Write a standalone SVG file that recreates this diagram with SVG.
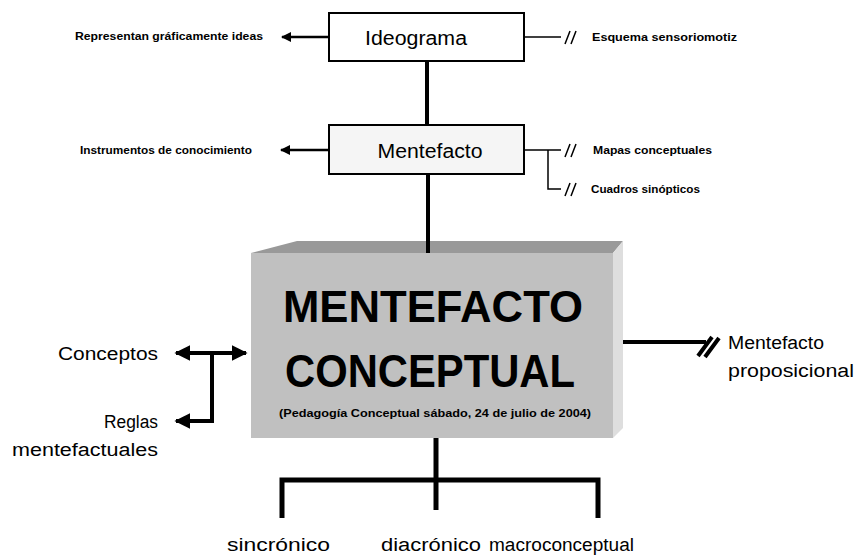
<svg xmlns="http://www.w3.org/2000/svg" width="856" height="559" viewBox="0 0 856 559">
<style>
text{font-family:"Liberation Sans",Arial,sans-serif;fill:#000}
.small{font-size:10px;font-weight:bold}
.mid{font-size:18px}
.box{stroke:#000;stroke-width:2}
.thin{stroke:#000;stroke-width:1.5;fill:none}
.thick{stroke:#000;stroke-width:4;fill:none}
.heavy{stroke:#000;stroke-width:5;fill:none}
</style>
<defs>
<marker id="ah" viewBox="0 0 10 10" refX="9" refY="5" markerWidth="4" markerHeight="4" orient="auto-start-reverse" markerUnits="strokeWidth">
<path d="M0,0 L10,5 L0,10 z" fill="#000"/>
</marker>
<marker id="ahs" viewBox="0 0 10 10" refX="9" refY="5" markerWidth="5" markerHeight="4" orient="auto" markerUnits="strokeWidth">
<path d="M0,0 L10,5 L0,10 z" fill="#000"/>
</marker>
</defs>
<rect width="856" height="559" fill="#fff"/>
<g id="connectors">
<line class="thick" x1="427" y1="61" x2="427" y2="125"/>
<line class="thick" x1="428" y1="174" x2="428" y2="253"/>
<line x1="329" y1="37" x2="282" y2="37" stroke="#000" stroke-width="2.5" marker-end="url(#ahs)"/>
<line x1="329" y1="150" x2="281" y2="150" stroke="#000" stroke-width="2.5" marker-end="url(#ahs)"/>
<path class="thin" d="M524,37 H561"/>
<path class="thin" d="M565,44 L570,31 M571,44 L576,31"/>
<path class="thin" d="M524,150 H561 M548,150 V189 H561"/>
<path class="thin" d="M565,157 L570,144 M571,157 L576,144 M565,196 L570,183 M571,196 L576,183"/>
<line class="thick" x1="176" y1="353" x2="246" y2="353" marker-start="url(#ah)" marker-end="url(#ah)"/>
<path class="thick" d="M212,353 V421 H176" marker-end="url(#ah)"/>
<line class="thick" x1="623" y1="342" x2="706" y2="342"/>
<path d="M698,356 L712,337 M705,357 L719,338" stroke="#000" stroke-width="4" fill="none"/>
<line class="heavy" x1="436" y1="438" x2="436" y2="510"/>
<path class="heavy" d="M282,518 V480 H598 V518"/>
</g>
<g id="ideograma">
<rect class="box" x="329" y="13" width="195" height="48" fill="#fff"/>
<text x="416" y="45" font-size="20" text-anchor="middle" textLength="102" lengthAdjust="spacingAndGlyphs">Ideograma</text>
</g>
<g id="mentefacto">
<rect class="box" x="329" y="125" width="195" height="49" fill="#f5f5f5"/>
<text x="430" y="158" font-size="20" text-anchor="middle" textLength="105" lengthAdjust="spacingAndGlyphs">Mentefacto</text>
</g>
<g id="representan">
<text class="small" x="75" y="40" textLength="188" lengthAdjust="spacingAndGlyphs">Representan gráficamente ideas</text>
</g>
<g id="esquema">
<text class="small" x="592" y="41" textLength="145" lengthAdjust="spacingAndGlyphs">Esquema sensoriomotiz</text>
</g>
<g id="instrumentos">
<text class="small" x="80" y="154" textLength="172" lengthAdjust="spacingAndGlyphs">Instrumentos de conocimiento</text>
</g>
<g id="mapas">
<text class="small" x="593" y="154" textLength="119" lengthAdjust="spacingAndGlyphs">Mapas conceptuales</text>
</g>
<g id="cuadros">
<text class="small" x="591" y="193" textLength="109" lengthAdjust="spacingAndGlyphs">Cuadros sinópticos</text>
</g>
<g id="mentefacto-conceptual">
<polygon points="251,253 297,241 623,241 613,253" fill="#999"/>
<polygon points="613,253 623,241 623,428 613,438" fill="#dedede"/>
<rect x="251" y="253" width="362" height="185" fill="#c0c0c0"/>
<line class="thick" x1="428" y1="241" x2="428" y2="253"/>
<text x="433" y="322" font-size="45" font-weight="bold" text-anchor="middle" textLength="300" lengthAdjust="spacingAndGlyphs">MENTEFACTO</text>
<text x="430" y="387" font-size="46" font-weight="bold" text-anchor="middle" textLength="290" lengthAdjust="spacingAndGlyphs">CONCEPTUAL</text>
<text class="small" x="435" y="417" font-size="11" text-anchor="middle" textLength="312" lengthAdjust="spacingAndGlyphs">(Pedagogía Conceptual sábado, 24 de julio de 2004)</text>
</g>
<g id="conceptos">
<text class="mid" x="158" y="360" text-anchor="end" textLength="100" lengthAdjust="spacingAndGlyphs">Conceptos</text>
</g>
<g id="reglas">
<text class="mid" x="158" y="428" text-anchor="end" textLength="54" lengthAdjust="spacingAndGlyphs">Reglas</text>
<text class="mid" x="158" y="456" text-anchor="end" textLength="146" lengthAdjust="spacingAndGlyphs">mentefactuales</text>
</g>
<g id="proposicional">
<text class="mid" x="728" y="349" textLength="96" lengthAdjust="spacingAndGlyphs">Mentefacto</text>
<text class="mid" x="728" y="377" textLength="126" lengthAdjust="spacingAndGlyphs">proposicional</text>
</g>
<g id="sincronico">
<text class="mid" x="227" y="551" textLength="103" lengthAdjust="spacingAndGlyphs">sincrónico</text>
</g>
<g id="diacronico">
<text class="mid" x="381" y="551" textLength="100" lengthAdjust="spacingAndGlyphs">diacrónico</text>
</g>
<g id="macroconceptual">
<text class="mid" x="489" y="551" textLength="145" lengthAdjust="spacingAndGlyphs">macroconceptual</text>
</g>
</svg>
